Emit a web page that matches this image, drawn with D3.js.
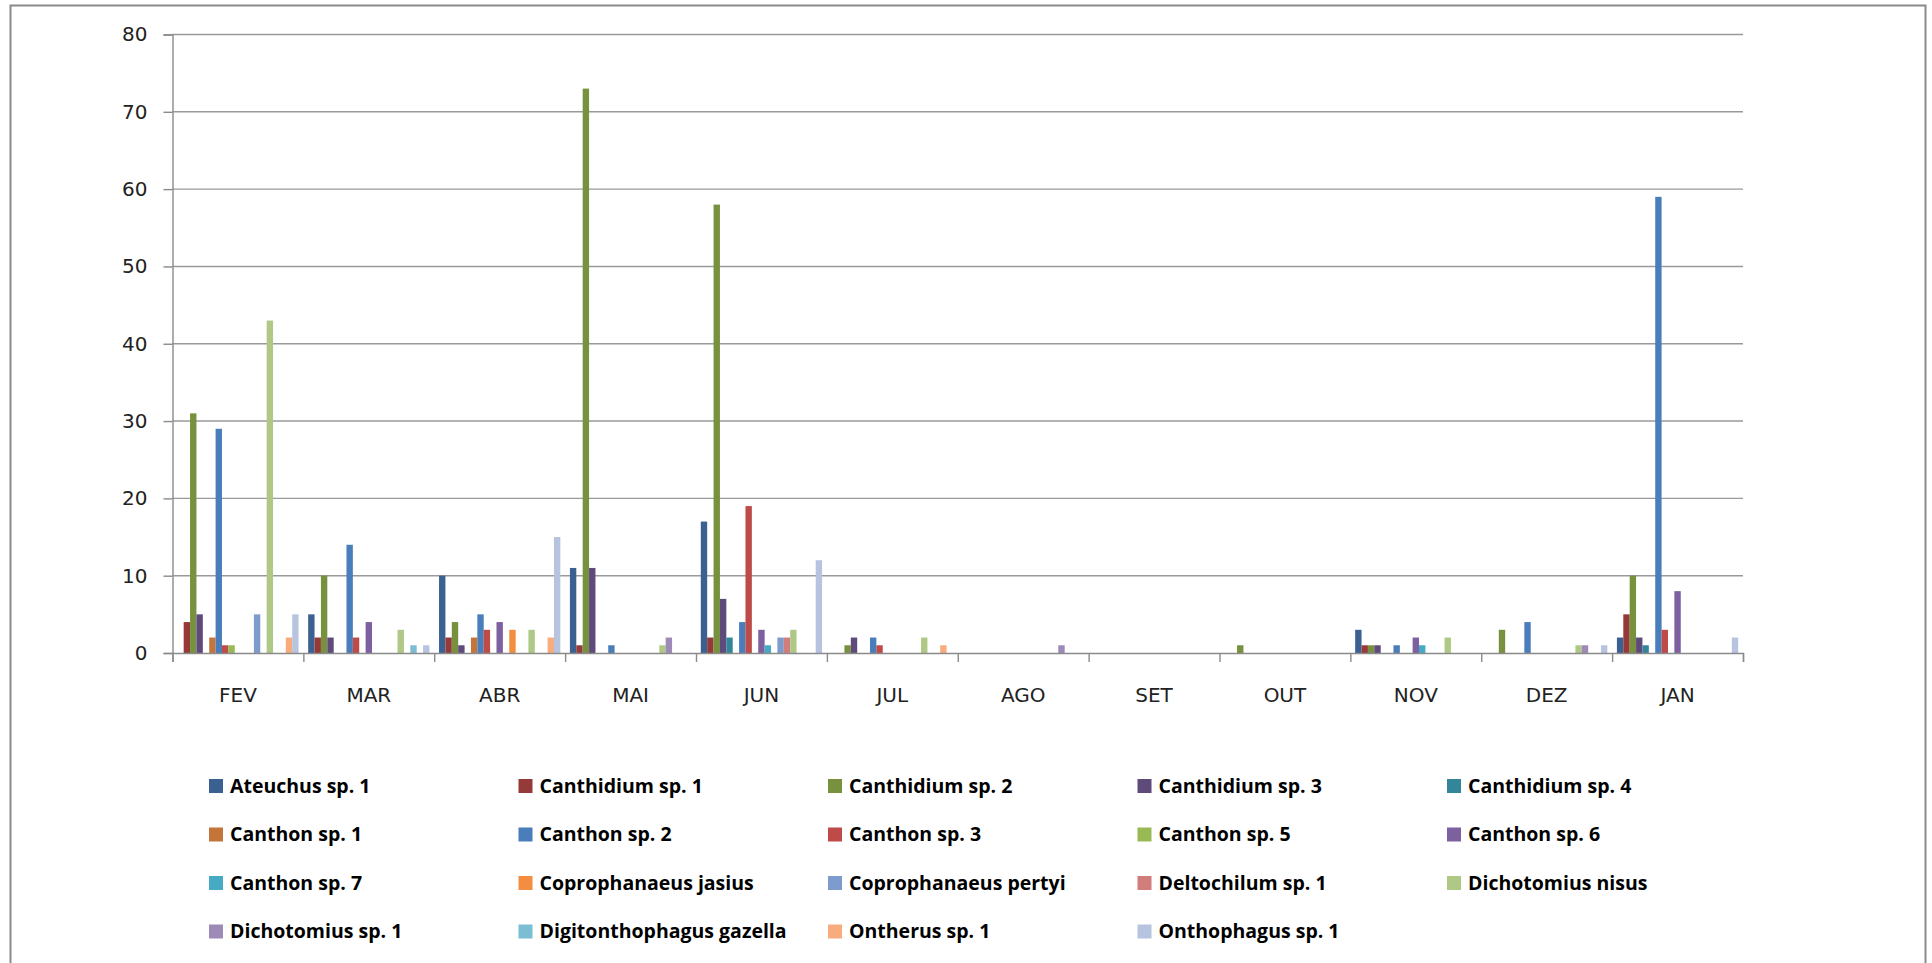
<!DOCTYPE html>
<html>
<head>
<meta charset="utf-8">
<script src="https://cdn.jsdelivr.net/npm/d3@7"></script>
<style>
  html, body { margin: 0; padding: 0; background: #fff; }
  svg { display: block; }
</style>
</head>
<body>
<svg id="chart" width="1932" height="963"></svg>
<script>
const months = ["FEV","MAR","ABR","MAI","JUN","JUL","AGO","SET","OUT","NOV","DEZ","JAN"];
const species = ["Ateuchus sp. 1","Canthidium sp. 1","Canthidium sp. 2","Canthidium sp. 3","Canthidium sp. 4",
  "Canthon sp. 1","Canthon sp. 2","Canthon sp. 3","Canthon sp. 5","Canthon sp. 6",
  "Canthon sp. 7","Coprophanaeus jasius","Coprophanaeus pertyi","Deltochilum sp. 1","Dichotomius nisus",
  "Dichotomius sp. 1","Digitonthophagus gazella","Ontherus sp. 1","Onthophagus sp. 1"];
const colors = ["#3B6193","#953A38","#77913F","#5F4A7C","#33869A",
  "#C4753A","#4A7EBB","#BE4B48","#98B954","#7D60A0",
  "#46AAC5","#F38D40","#7E9BCE","#D17D7B","#AFC886",
  "#9D8AB7","#7BBED3","#F8AC7D","#B7C4DF"];
// values per species, in month order FEV..JAN
const ateuchus1      = [0,5,10,11,17,0,0,0,0,3,0,2];
const canthidium1    = [4,2,2,1,2,0,0,0,0,1,0,5];
const canthidium2    = [31,10,4,73,58,1,0,0,1,1,3,10];
const canthidium3    = [5,2,1,11,7,2,0,0,0,1,0,2];
const canthidium4    = [0,0,0,0,2,0,0,0,0,0,0,1];
const canthon1       = [2,0,2,0,0,0,0,0,0,0,0,0];
const canthon2       = [29,14,5,1,4,2,0,0,0,1,4,59];
const canthon3       = [1,2,3,0,19,1,0,0,0,0,0,3];
const canthon5       = [1,0,0,0,0,0,0,0,0,0,0,0];
const canthon6       = [0,4,4,0,3,0,0,0,0,2,0,8];
const canthon7       = [0,0,0,0,1,0,0,0,0,1,0,0];
const coproJasius    = [0,0,3,0,0,0,0,0,0,0,0,0];
const coproPertyi    = [5,0,0,0,2,0,0,0,0,0,0,0];
const deltochilum1   = [0,0,0,0,2,0,0,0,0,0,0,0];
const dichoNisus     = [43,3,3,1,3,2,0,0,0,2,1,0];
const dicho1         = [0,0,0,2,0,0,1,0,0,0,1,0];
const digitonthophagus = [0,1,0,0,0,0,0,0,0,0,0,0];
const ontherus1      = [2,0,2,0,0,1,0,0,0,0,0,0];
const onthophagus1   = [5,1,15,0,12,0,0,0,0,0,1,2];
const seriesValues = [ateuchus1,canthidium1,canthidium2,canthidium3,canthidium4,
  canthon1,canthon2,canthon3,canthon5,canthon6,
  canthon7,coproJasius,coproPertyi,deltochilum1,dichoNisus,
  dicho1,digitonthophagus,ontherus1,onthophagus1];
const yTicks = [0,10,20,30,40,50,60,70,80];

(function(){
const svg = d3.select("#chart");

// outer chart border
svg.append("rect").attr("x",10.5).attr("y",5.5).attr("width",1915).attr("height",990)
  .attr("fill","none").attr("stroke","#8a8a8a").attr("stroke-width",2);

const pLeft = 172.5, pRight = 1743, pTop = 34.5, pBottom = 653;
const x0 = d3.scaleBand().domain(months).range([pLeft, pRight]).padding(0);
const x1 = d3.scaleBand().domain(species).range([0, x0.bandwidth()]).paddingInner(0).paddingOuter(0.75);
const y = d3.scaleLinear().domain([0,80]).range([pBottom, pTop]);
const color = d3.scaleOrdinal().domain(species).range(colors);

// gridlines
svg.append("g").selectAll("line").data(yTicks.filter(d=>d>0)).join("line")
  .attr("x1", pLeft).attr("x2", pRight)
  .attr("y1", d=>y(d)).attr("y2", d=>y(d))
  .attr("stroke","#9a9a9a").attr("stroke-width",1.4);

// y axis
const yAxis = svg.append("g").attr("transform",`translate(${pLeft},0)`)
  .call(d3.axisLeft(y).tickValues(yTicks).tickSize(9).tickPadding(16));
yAxis.select(".domain").attr("stroke","#8a8a8a").attr("stroke-width",1.4);
yAxis.selectAll(".tick line").attr("stroke","#8a8a8a").attr("stroke-width",1.4);
yAxis.selectAll("text").attr("font-family","'DejaVu Sans', Verdana, sans-serif")
  .attr("font-size",20).attr("fill","#222");

// bars
const data = [];
months.forEach((m,i)=>species.forEach((s,j)=>data.push({m, s, v: seriesValues[j][i]})));
svg.append("g").selectAll("rect").data(data.filter(d=>d.v>0)).join("rect")
  .attr("x", d=>x0(d.m)+x1(d.s))
  .attr("width", x1.bandwidth())
  .attr("y", d=>y(d.v))
  .attr("height", d=>y(0)-y(d.v))
  .attr("fill", d=>color(d.s));

// x axis
const xTickScale = d3.scaleLinear().domain([0,12]).range([pLeft,pRight]);
const xAxis = svg.append("g").attr("transform",`translate(0,${pBottom})`)
  .call(d3.axisBottom(xTickScale).tickValues(d3.range(0,13)).tickSize(9).tickFormat(""));
xAxis.select(".domain").attr("stroke","#8a8a8a").attr("stroke-width",1.4);
xAxis.selectAll(".tick line").attr("stroke","#8a8a8a").attr("stroke-width",1.4);
svg.append("g").selectAll("text").data(months).join("text")
  .attr("x", d=>x0(d)+x0.bandwidth()/2).attr("y", 702)
  .attr("text-anchor","middle")
  .attr("font-family","'DejaVu Sans', Verdana, sans-serif").attr("font-size",20).attr("fill","#222")
  .text(d=>d);

// legend
const legCols = 5, legX0 = 209, legDX = 309.5, legY0 = 786, legDY = 48.5;
const leg = svg.append("g").selectAll("g").data(species).join("g")
  .attr("transform",(d,i)=>`translate(${legX0 + (i%legCols)*legDX},${legY0 + Math.floor(i/legCols)*legDY})`);
leg.append("rect").attr("x",0).attr("y",-7).attr("width",14).attr("height",14).attr("fill",d=>color(d));
leg.append("text").attr("x",21).attr("y",0).attr("dy","0.35em")
  .attr("font-family","'Liberation Sans Narrow','Arial Narrow','Open Sans',sans-serif")
  .attr("font-weight","bold").attr("font-size",19.5).attr("fill","#000")
  .text(d=>d);
})();
</script>
</body>
</html>
